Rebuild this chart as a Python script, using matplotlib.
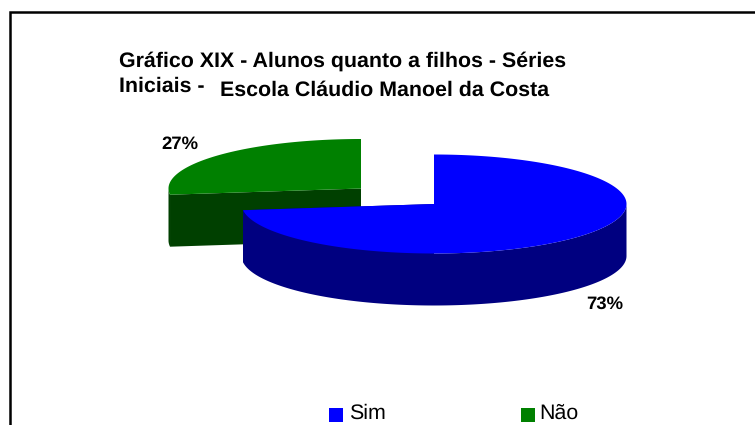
import matplotlib
matplotlib.use("Agg")
import matplotlib.pyplot as plt
import numpy as np
from matplotlib.patches import Rectangle

plt.rcParams['font.family'] = ['Liberation Sans', 'DejaVu Sans']
plt.rcParams['text.hinting'] = 'no_hinting'

# data
categories = ["Sim", "Não"]
values = [73, 27]
labels = ["73%", "27%"]
top_colors = ["#0000FF", "#008000"]
side_colors = ["#000080", "#004000"]

# layout, all in pixels of the 755x425 picture
rx = 192.5
ry = 49.5
depth = 52
centers = [(434, 204), (361, 188.5)]

fig = plt.figure(figsize=(7.55, 4.25), dpi=100)
ax = fig.add_axes([0, 0, 1, 1])
ax.set_xlim(0, 755)
ax.set_ylim(425, 0)
ax.axis("off")


def rim(cx, cy, a0, a1):
    # angles in degrees, clockwise from 12 o'clock
    t = np.radians(np.linspace(a0, a1, 200))
    return cx + rx * np.sin(t), cy - ry * np.cos(t)


def draw_slice(cx, cy, a0, a1, top, side):
    # radial wall at the end of the slice, seen from the front
    if a1 < 360:
        x, y = rim(cx, cy, a1, a1)
        ax.fill([cx, x[0], x[0], cx], [cy, y[0], y[0] + depth, cy + depth], color=side, lw=0)
    if a0 > 180:
        x, y = rim(cx, cy, a0, a0)
        ax.fill([cx, x[0], x[0], cx], [cy, y[0], y[0] + depth, cy + depth], color=side, lw=0)
    # outer wall, only the front half of the ellipse shows
    lo, hi = max(a0, 90), min(a1, 270)
    if lo < hi:
        x, y = rim(cx, cy, lo, hi)
        ax.fill(np.r_[x, x[::-1]], np.r_[y, y[::-1] + depth], color=side, lw=0)
    x, y = rim(cx, cy, a0, a1)
    ax.fill(np.r_[cx, x], np.r_[cy, y], color=top, lw=0)


fractions = np.cumsum([0] + values) / sum(values) * 360
# green sits behind the blue slice
for i in [1, 0]:
    draw_slice(centers[i][0], centers[i][1], fractions[i], fractions[i + 1], top_colors[i], side_colors[i])

# frame, only left and top are in the picture
ax.plot([9.7, 9.7, 755], [425, 12.2, 12.2], color="black", lw=1.8, solid_joinstyle="miter")

ax.text(119, 67, "Gráfico XIX - Alunos quanto a filhos - Séries", fontsize=15.4, fontweight="bold", va="baseline")
ax.text(119, 92, "Iniciais -", fontsize=15.4, fontweight="bold", va="baseline")
ax.text(219.5, 96, "Escola Cláudio Manoel da Costa", fontsize=15.4, fontweight="bold", va="baseline")

ax.text(180, 149, labels[1], fontsize=13.3, fontweight="bold", ha="center", va="baseline")
ax.text(604.5, 309, labels[0], fontsize=13.3, fontweight="bold", ha="center", va="baseline")

ax.add_patch(Rectangle((329, 408), 14, 14, color=top_colors[0], lw=0))
ax.text(349, 419, categories[0], fontsize=15.4, va="baseline")
ax.add_patch(Rectangle((521, 408), 14, 14, color=top_colors[1], lw=0))
ax.text(539, 419, categories[1], fontsize=15.4, va="baseline")

fig.savefig("out.png", dpi=100)
